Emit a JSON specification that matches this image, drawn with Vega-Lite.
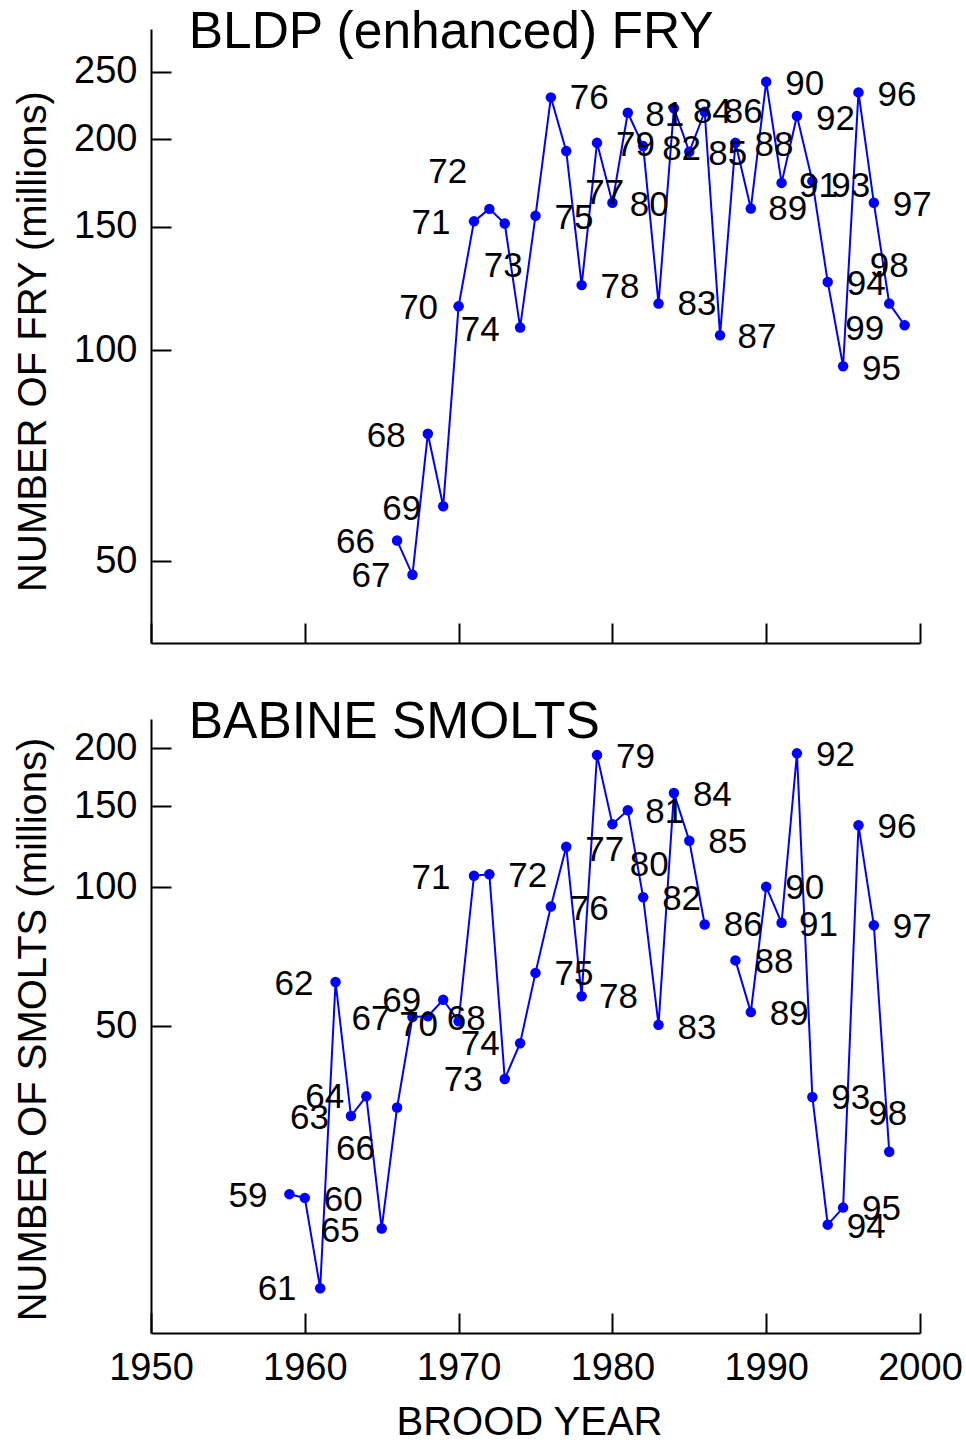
{
  "$schema": "https://vega.github.io/schema/vega-lite/v6.json",
  "background": "white",
  "padding": {"left": 13, "top": 6, "right": 5, "bottom": 0},
  "config": {
    "view": {"stroke": null},
    "font": "Liberation Sans",
    "axis": {
      "domainColor": "black", "domainWidth": 2,
      "tickColor": "black", "tickWidth": 2, "tickSize": -20,
      "grid": false,
      "labelFont": "Liberation Sans", "labelFontSize": 38, "labelColor": "black",
      "labelPadding": 34, "labelFlush": false, "labelOverlap": false,
      "titleFont": "Liberation Sans", "titleFontSize": 40, "titleFontWeight": "normal", "titleColor": "black"
    }
  },
  "datasets": {
    "fry": [
      {"year": 1966, "fry": 53.5, "lab": "66", "lx": 1963.3, "ly": 53.2},
      {"year": 1967, "fry": 47.8, "lab": "67", "lx": 1964.3, "ly": 47.6},
      {"year": 1968, "fry": 76.0, "lab": "68", "lx": 1965.3, "ly": 75.5},
      {"year": 1969, "fry": 59.9, "lab": "69", "lx": 1966.3, "ly": 59.4},
      {"year": 1970, "fry": 115.6, "lab": "70", "lx": 1967.4, "ly": 115.1},
      {"year": 1971, "fry": 152.8, "lab": "71", "lx": 1968.2, "ly": 152.1},
      {"year": 1972, "fry": 159.2, "lab": "72", "lx": 1969.3, "ly": 179.8},
      {"year": 1973, "fry": 151.7, "lab": "73", "lx": 1972.9, "ly": 132.0},
      {"year": 1974, "fry": 107.8, "lab": "74", "lx": 1971.4, "ly": 106.8},
      {"year": 1975, "fry": 155.6, "lab": "75", "lx": 1977.5, "ly": 154.7},
      {"year": 1976, "fry": 229.7, "lab": "76", "lx": 1978.5, "ly": 229.0},
      {"year": 1977, "fry": 192.5, "lab": "77", "lx": 1979.5, "ly": 168.0},
      {"year": 1978, "fry": 123.9, "lab": "78", "lx": 1980.5, "ly": 123.2},
      {"year": 1979, "fry": 197.8, "lab": "79", "lx": 1981.5, "ly": 196.3},
      {"year": 1980, "fry": 162.4, "lab": "80", "lx": 1982.4, "ly": 161.2},
      {"year": 1981, "fry": 218.4, "lab": "81", "lx": 1983.4, "ly": 216.8},
      {"year": 1982, "fry": 195.7, "lab": "82", "lx": 1984.5, "ly": 193.8},
      {"year": 1983, "fry": 116.6, "lab": "83", "lx": 1985.5, "ly": 116.4},
      {"year": 1984, "fry": 221.6, "lab": "84", "lx": 1986.5, "ly": 219.1},
      {"year": 1985, "fry": 192.1, "lab": "85", "lx": 1987.5, "ly": 190.6},
      {"year": 1986, "fry": 219.1, "lab": "86", "lx": 1988.5, "ly": 219.1},
      {"year": 1987, "fry": 105.1, "lab": "87", "lx": 1989.4, "ly": 104.5},
      {"year": 1988, "fry": 197.8, "lab": "88", "lx": 1990.5, "ly": 196.3},
      {"year": 1989, "fry": 159.4, "lab": "89", "lx": 1991.4, "ly": 159.1},
      {"year": 1990, "fry": 241.8, "lab": "90", "lx": 1992.5, "ly": 240.2},
      {"year": 1991, "fry": 173.4, "lab": "91", "lx": 1993.4, "ly": 171.7},
      {"year": 1992, "fry": 216.0, "lab": "92", "lx": 1994.5, "ly": 213.9},
      {"year": 1993, "fry": 174.4, "lab": "93", "lx": 1995.5, "ly": 171.5},
      {"year": 1994, "fry": 125.2, "lab": "94", "lx": 1996.5, "ly": 124.5},
      {"year": 1995, "fry": 94.9, "lab": "95", "lx": 1997.5, "ly": 94.1},
      {"year": 1996, "fry": 233.5, "lab": "96", "lx": 1998.5, "ly": 231.4},
      {"year": 1997, "fry": 162.4, "lab": "97", "lx": 1999.5, "ly": 161.2},
      {"year": 1998, "fry": 116.6, "lab": "98", "lx": 1998.0, "ly": 132.0},
      {"year": 1999, "fry": 108.6, "lab": "99", "lx": 1996.4, "ly": 107.4}
    ],
    "smolts": [
      {"year": 1959, "smolts": 21.6, "lab": "59", "lx": 1956.3, "ly": 21.45},
      {"year": 1960, "smolts": 21.2, "lab": "60", "lx": 1962.5, "ly": 21.0},
      {"year": 1961, "smolts": 13.5, "lab": "61", "lx": 1958.2, "ly": 13.45},
      {"year": 1962, "smolts": 62.3, "lab": "62", "lx": 1959.3, "ly": 61.8},
      {"year": 1963, "smolts": 31.9, "lab": "63", "lx": 1960.3, "ly": 31.6},
      {"year": 1964, "smolts": 35.2, "lab": "64", "lx": 1961.3, "ly": 35.0},
      {"year": 1965, "smolts": 18.2, "lab": "65", "lx": 1962.3, "ly": 18.0},
      {"year": 1966, "smolts": 33.3, "lab": "66", "lx": 1963.3, "ly": 27.1},
      {"year": 1967, "smolts": 52.3, "lab": "67", "lx": 1964.3, "ly": 51.9},
      {"year": 1968, "smolts": 52.5, "lab": "68", "lx": 1970.5, "ly": 51.9},
      {"year": 1969, "smolts": 57.0, "lab": "69", "lx": 1966.3, "ly": 56.8},
      {"year": 1970, "smolts": 51.2, "lab": "70", "lx": 1967.4, "ly": 50.3},
      {"year": 1971, "smolts": 105.9, "lab": "71", "lx": 1968.2, "ly": 104.8},
      {"year": 1972, "smolts": 106.7, "lab": "72", "lx": 1974.5, "ly": 105.7},
      {"year": 1973, "smolts": 38.4, "lab": "73", "lx": 1970.3, "ly": 38.1},
      {"year": 1974, "smolts": 45.9, "lab": "74", "lx": 1971.4, "ly": 45.7},
      {"year": 1975, "smolts": 65.2, "lab": "75", "lx": 1977.5, "ly": 65.0},
      {"year": 1976, "smolts": 90.8, "lab": "76", "lx": 1978.5, "ly": 89.9},
      {"year": 1977, "smolts": 122.4, "lab": "77", "lx": 1979.5, "ly": 120.7},
      {"year": 1978, "smolts": 58.0, "lab": "78", "lx": 1980.4, "ly": 57.8},
      {"year": 1979, "smolts": 193.4, "lab": "79", "lx": 1981.5, "ly": 191.9},
      {"year": 1980, "smolts": 137.0, "lab": "80", "lx": 1982.4, "ly": 111.6},
      {"year": 1981, "smolts": 146.9, "lab": "81", "lx": 1983.4, "ly": 145.8},
      {"year": 1982, "smolts": 95.1, "lab": "82", "lx": 1984.5, "ly": 94.5},
      {"year": 1983, "smolts": 50.3, "lab": "83", "lx": 1985.5, "ly": 49.4},
      {"year": 1984, "smolts": 160.0, "lab": "84", "lx": 1986.5, "ly": 158.4},
      {"year": 1985, "smolts": 126.1, "lab": "85", "lx": 1987.5, "ly": 125.5},
      {"year": 1986, "smolts": 83.0, "lab": "86", "lx": 1988.5, "ly": 82.7},
      {"year": 1987, "smolts": null},
      {"year": 1988, "smolts": 69.4, "lab": "88", "lx": 1990.5, "ly": 68.9},
      {"year": 1989, "smolts": 53.6, "lab": "89", "lx": 1991.5, "ly": 53.2},
      {"year": 1990, "smolts": 100.2, "lab": "90", "lx": 1992.5, "ly": 99.5},
      {"year": 1991, "smolts": 83.7, "lab": "91", "lx": 1993.4, "ly": 82.7},
      {"year": 1992, "smolts": 195.1, "lab": "92", "lx": 1994.5, "ly": 193.5},
      {"year": 1993, "smolts": 35.1, "lab": "93", "lx": 1995.5, "ly": 34.9},
      {"year": 1994, "smolts": 18.55, "lab": "94", "lx": 1996.5, "ly": 18.3},
      {"year": 1995, "smolts": 20.2, "lab": "95", "lx": 1997.5, "ly": 20.1},
      {"year": 1996, "smolts": 136.3, "lab": "96", "lx": 1998.5, "ly": 135.2},
      {"year": 1997, "smolts": 82.7, "lab": "97", "lx": 1999.5, "ly": 82.1},
      {"year": 1998, "smolts": 26.7, "lab": "98", "lx": 1997.9, "ly": 32.3}
    ]
  },
  "bounds": "flush",
  "spacing": 76,
  "vconcat": [
    {
      "width": 769,
      "height": 614,
      "data": {"name": "fry"},
      "layer": [
        {
          "mark": {"type": "line", "color": "#0000FF", "strokeWidth": 2},
          "encoding": {
            "x": {"field": "year", "type": "quantitative",
                  "scale": {"domain": [1950, 2000], "nice": false, "zero": false},
                  "axis": {"values": [1950, 1960, 1970, 1980, 1990, 2000], "labels": false, "title": null}},
            "y": {"field": "fry", "type": "quantitative",
                  "scale": {"type": "log", "domain": [38.2, 287.6], "nice": false},
                  "axis": {"values": [50, 100, 150, 200, 250], "format": "d", "title": "NUMBER OF FRY (millions)",
                           "titleX": -106, "titleY": 312, "titleBaseline": "alphabetic"}}
          }
        },
        {
          "mark": {"type": "circle", "color": "#0000FF", "size": 110, "opacity": 1},
          "encoding": {
            "x": {"field": "year", "type": "quantitative"},
            "y": {"field": "fry", "type": "quantitative"}
          }
        },
        {
          "mark": {"type": "text", "fontSize": 35, "color": "black", "align": "center", "baseline": "middle"},
          "encoding": {
            "x": {"field": "lx", "type": "quantitative"},
            "y": {"field": "ly", "type": "quantitative"},
            "text": {"field": "lab"}
          }
        },
        {
          "data": {"values": [{"title": "BLDP (enhanced) FRY"}]},
          "mark": {"type": "text", "fontSize": 51.5, "color": "black", "align": "left", "baseline": "alphabetic"},
          "encoding": {
            "x": {"datum": 1952.45, "type": "quantitative"},
            "y": {"datum": 270.3, "type": "quantitative"},
            "text": {"field": "title"}
          }
        }
      ]
    },
    {
      "width": 769,
      "height": 614,
      "data": {"name": "smolts"},
      "layer": [
        {
          "mark": {"type": "line", "color": "#0000FF", "strokeWidth": 2, "invalid": "break-paths-filter-domains"},
          "encoding": {
            "x": {"field": "year", "type": "quantitative",
                  "scale": {"domain": [1950, 2000], "nice": false, "zero": false},
                  "axis": {"values": [1950, 1960, 1970, 1980, 1990, 2000], "format": "d", "title": "BROOD YEAR",
                           "labelPadding": 36, "titleX": 378, "titlePadding": 15}},
            "y": {"field": "smolts", "type": "quantitative",
                  "scale": {"type": "log", "domain": [10.8, 231.6], "nice": false},
                  "axis": {"values": [50, 100, 150, 200], "format": "d", "title": "NUMBER OF SMOLTS (millions)",
                           "titleX": -106, "titleY": 310, "titleBaseline": "alphabetic"}}
          }
        },
        {
          "mark": {"type": "circle", "color": "#0000FF", "size": 110, "opacity": 1},
          "encoding": {
            "x": {"field": "year", "type": "quantitative"},
            "y": {"field": "smolts", "type": "quantitative"}
          }
        },
        {
          "mark": {"type": "text", "fontSize": 35, "color": "black", "align": "center", "baseline": "middle"},
          "encoding": {
            "x": {"field": "lx", "type": "quantitative"},
            "y": {"field": "ly", "type": "quantitative"},
            "text": {"field": "lab"}
          }
        },
        {
          "data": {"values": [{"title": "BABINE SMOLTS"}]},
          "mark": {"type": "text", "fontSize": 51.5, "color": "black", "align": "left", "baseline": "alphabetic"},
          "encoding": {
            "x": {"datum": 1952.45, "type": "quantitative"},
            "y": {"datum": 210.3, "type": "quantitative"},
            "text": {"field": "title"}
          }
        }
      ]
    }
  ]
}
